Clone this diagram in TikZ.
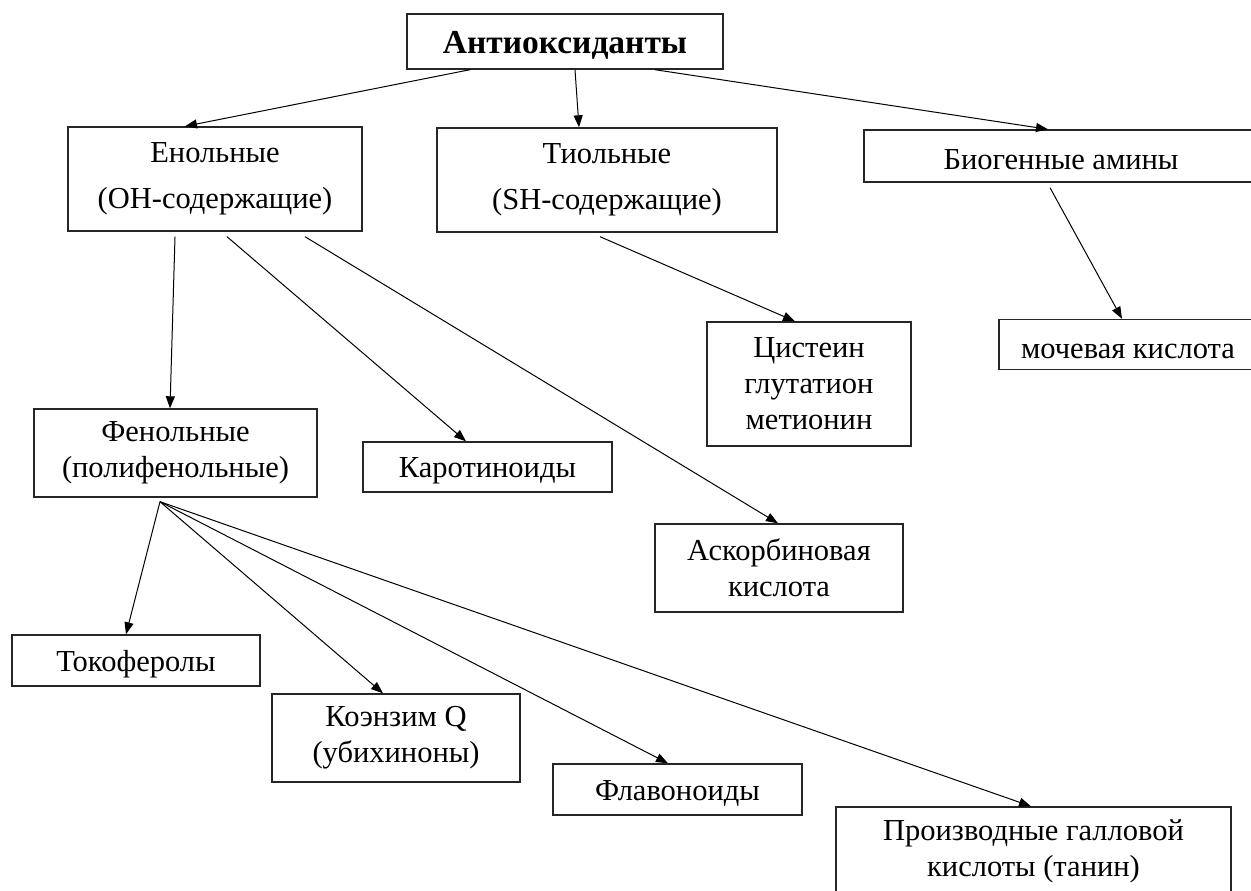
\documentclass[tikz,border=0pt]{standalone}
\usepackage{fontspec}
\setmainfont{Liberation Serif}
\usetikzlibrary{arrows.meta}
\tikzset{
  box/.style={draw=black!85, line width=1.4pt, inner sep=0pt, align=center,
    font=\fontsize{30.5}{36}\selectfont,
    execute at begin node={\rule{0pt}{0.92em}}},
  arr/.style={line width=1pt, -{Triangle[length=12pt,width=9pt]}}
}
\begin{document}
\begin{tikzpicture}[x=1pt,y=-1pt]
  \useasboundingbox (0,0) rectangle (1251,891);
  \node[box, minimum width=316, minimum height=55, font=\fontsize{33.5}{36}\selectfont\bfseries] (root) at (565,41.5) {Антиоксиданты};
  \node[box, minimum width=294, minimum height=104] (enol) at (215,179) {Енольные\\[10pt](ОН-содержащие)};
  \node[box, minimum width=340, minimum height=104] (thiol) at (607,180) {Тиольные\\[10pt](SH-содержащие)};
  \node[box, minimum width=394, minimum height=52] (amine) at (1061,156) {Биогенные амины};
  \node[box, minimum width=258, minimum height=50] (uric) at (1128,344.5) {мочевая кислота};
  \node[box, minimum width=204, minimum height=124] (cyst) at (809,384) {Цистеин\\глутатион\\метионин};
  \node[box, minimum width=283, minimum height=88] (phenol) at (175.5,453) {Фенольные\\(полифенольные)};
  \node[box, minimum width=249, minimum height=50] (carot) at (487.5,467) {Каротиноиды};
  \node[box, minimum width=248, minimum height=88] (ascorb) at (779,568) {Аскорбиновая\\кислота};
  \node[box, minimum width=248, minimum height=51] (tocoph) at (136,660.5) {Токоферолы};
  \node[box, minimum width=248, minimum height=88] (coenz) at (396,738) {Коэнзим Q\\(убихиноны)};
  \node[box, minimum width=249, minimum height=51] (flavon) at (677.5,789.5) {Флавоноиды};
  \node[box, minimum width=395, minimum height=88] (gallic) at (1033.5,851) {Производные галловой\\кислоты (танин)};
  % from the root
  \draw[arr] ([xshift=-95pt]root.south) -- ([xshift=-30pt]enol.north);
  \draw[arr] ([xshift=10pt]root.south) -- ([xshift=-28pt]thiol.north);
  \draw[arr] ([xshift=90pt]root.south) -- ([xshift=-13pt]amine.north);
  % second level
  \draw[arr] ([xshift=-40pt,yshift=-5pt]enol.south) -- ([xshift=-5.5pt]phenol.north);
  \draw[arr] ([xshift=12pt,yshift=-5pt]enol.south) -- ([xshift=-21.5pt]carot.north);
  \draw[arr] ([xshift=90pt,yshift=-5pt]enol.south) -- ([xshift=-1pt]ascorb.north);
  \draw[arr] ([xshift=-7pt,yshift=-4pt]thiol.south) -- ([xshift=-14pt]cyst.north);
  \draw[arr] ([xshift=-11pt,yshift=-5pt]amine.south) -- ([xshift=-6pt]uric.north);
  % phenols
  \coordinate (fan) at ([xshift=-15.5pt,yshift=-4pt]phenol.south);
  \draw[arr] (fan) -- ([xshift=-10pt]tocoph.north);
  \draw[arr] (fan) -- ([xshift=-13pt]coenz.north);
  \draw[arr] (fan) -- ([xshift=-9.5pt]flavon.north);
  \draw[arr] (fan) -- ([xshift=-2.5pt]gallic.north);
\end{tikzpicture}
\end{document}
